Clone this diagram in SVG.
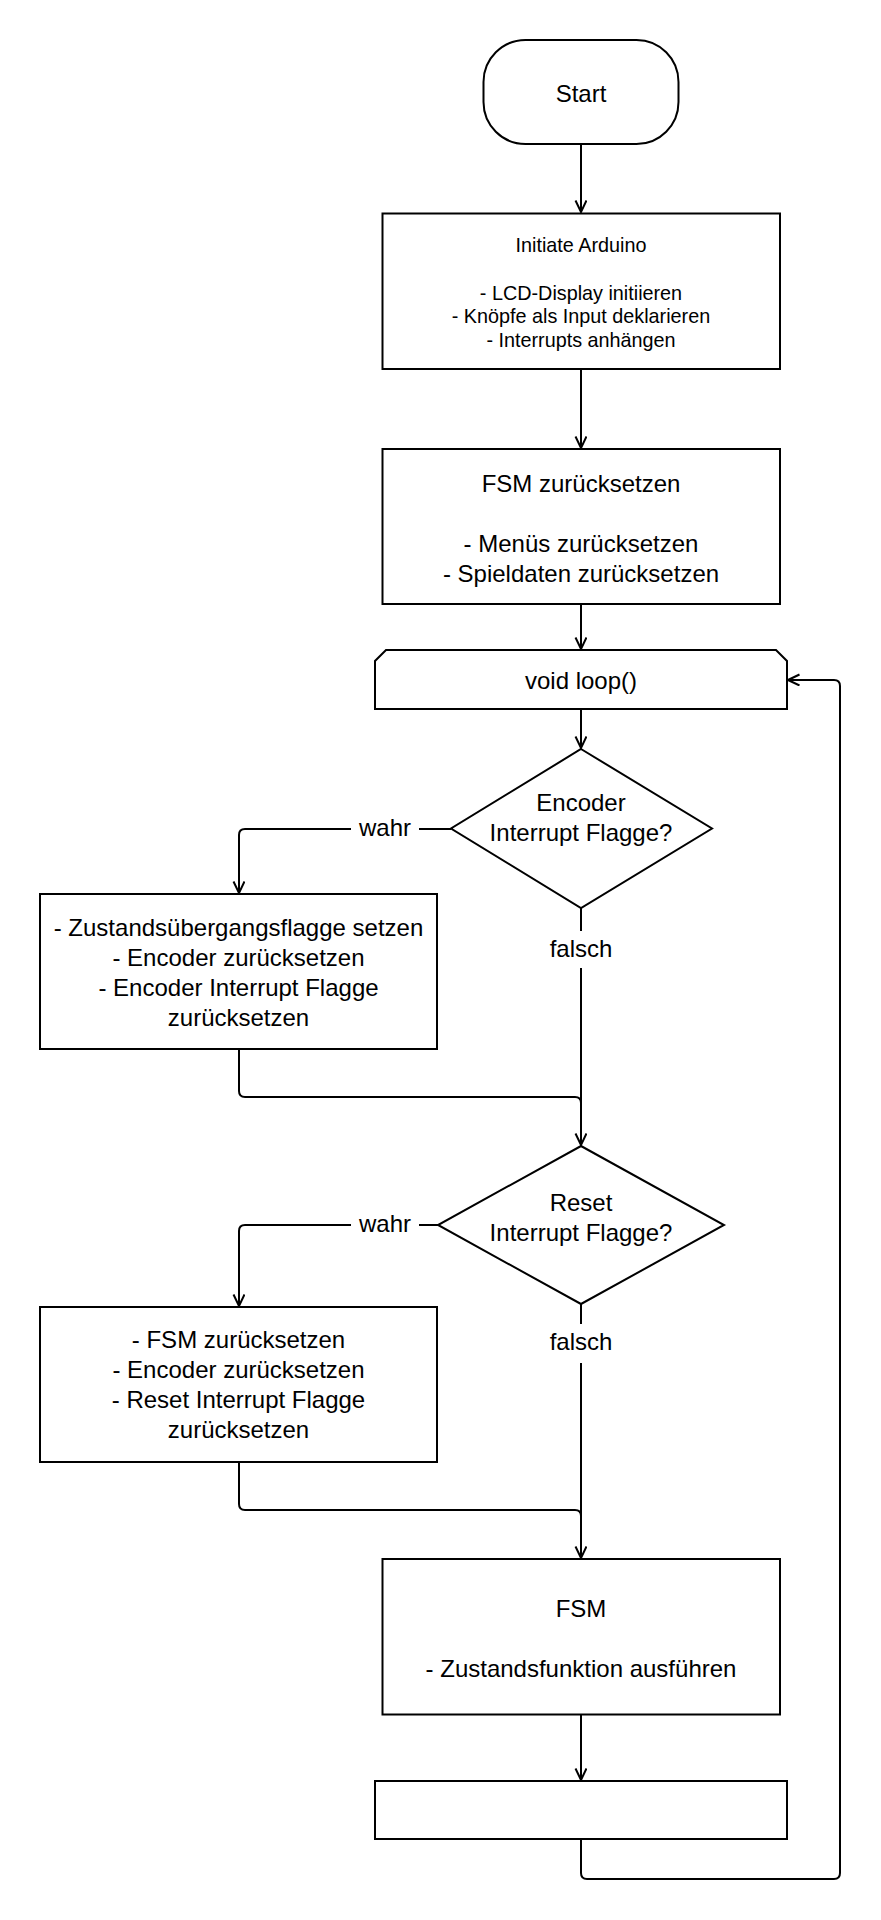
<svg xmlns="http://www.w3.org/2000/svg" width="881" height="1920" viewBox="0 0 881 1920">
<defs>
<style>
.s{fill:#fff;stroke:#000;stroke-width:2}
.t{font-family:"Liberation Sans",Arial,sans-serif;font-size:24px;fill:#000;text-anchor:middle}
.ts{font-family:"Liberation Sans",Arial,sans-serif;font-size:19.8px;fill:#000;text-anchor:middle}
.c{fill:none;stroke:#000;stroke-width:2}
.bg{fill:#fff;stroke:none}
</style>
<marker id="a" markerUnits="userSpaceOnUse" markerWidth="14" markerHeight="14" refX="12" refY="6" orient="auto" viewBox="0 0 14 14">
<path d="M0.5,0.5 L12,6 L0.5,11.5" fill="none" stroke="#000" stroke-width="2"/>
</marker>
</defs>
<rect width="881" height="1920" fill="#fff"/>
<g id="connectors">
<path class="c" d="M581,144 V212" marker-end="url(#a)"/>
<path class="c" d="M581,369 V448" marker-end="url(#a)"/>
<path class="c" d="M581,604 V649" marker-end="url(#a)"/>
<path class="c" d="M581,709 V748" marker-end="url(#a)"/>
<path class="c" d="M451,829 H245 Q239,829 239,835 V893" marker-end="url(#a)"/>
<path class="c" d="M581,908 V1145" marker-end="url(#a)"/>
<path class="c" d="M239,1049 V1091 Q239,1097 245,1097 H575 Q581,1097 581,1103"/>
<path class="c" d="M438,1225 H245 Q239,1225 239,1231 V1306" marker-end="url(#a)"/>
<path class="c" d="M581,1304 V1558" marker-end="url(#a)"/>
<path class="c" d="M239,1462 V1504 Q239,1510 245,1510 H575 Q581,1510 581,1516"/>
<path class="c" d="M581,1715 V1780" marker-end="url(#a)"/>
<path class="c" d="M581,1839 V1873 Q581,1879 587,1879 H834 Q840,1879 840,1873 V686 Q840,680 834,680 H788" marker-end="url(#a)"/>
<rect class="bg" x="351" y="815" width="68" height="28"/>
<text class="t" x="385" y="836">wahr</text>
<rect class="bg" x="545" y="931" width="72" height="37"/>
<text class="t" x="581" y="957">falsch</text>
<rect class="bg" x="351" y="1211" width="68" height="28"/>
<text class="t" x="385" y="1232">wahr</text>
<rect class="bg" x="545" y="1324" width="72" height="39"/>
<text class="t" x="581" y="1350">falsch</text>
</g>
<g id="start">
<rect class="s" x="483.5" y="40" width="195" height="104" rx="42" ry="42"/>
<text class="t" x="581" y="102">Start</text>
</g>
<g id="initiate">
<rect class="s" x="382.5" y="213.5" width="397.5" height="155.5"/>
<text class="ts" x="581" y="252">Initiate Arduino</text>
<text class="ts" x="581" y="299.5">- LCD-Display initiieren</text>
<text class="ts" x="581" y="323.3">- Knöpfe als Input deklarieren</text>
<text class="ts" x="581" y="347">- Interrupts anhängen</text>
</g>
<g id="fsmreset">
<rect class="s" x="382.5" y="449" width="397.5" height="155"/>
<text class="t" x="581" y="492">FSM zurücksetzen</text>
<text class="t" x="581" y="552">- Menüs zurücksetzen</text>
<text class="t" x="581" y="582">- Spieldaten zurücksetzen</text>
</g>
<g id="loop">
<path class="s" d="M386,650 H776 L787,661 V709 H375 V661 Z"/>
<text class="t" x="581" y="689">void loop()</text>
</g>
<g id="enc">
<path class="s" d="M581,749 L712,828.5 L581,908 L451,828.5 Z"/>
<text class="t" x="581" y="811">Encoder</text>
<text class="t" x="581" y="841">Interrupt Flagge?</text>
</g>
<g id="encbox">
<rect class="s" x="40" y="894" width="397" height="155"/>
<text class="t" x="238.5" y="935.5">- Zustandsübergangsflagge setzen</text>
<text class="t" x="238.5" y="965.5">- Encoder zurücksetzen</text>
<text class="t" x="238.5" y="995.5">- Encoder Interrupt Flagge</text>
<text class="t" x="238.5" y="1025.5">zurücksetzen</text>
</g>
<g id="reset">
<path class="s" d="M581,1146 L724,1225 L581,1304 L438,1225 Z"/>
<text class="t" x="581" y="1211">Reset</text>
<text class="t" x="581" y="1241">Interrupt Flagge?</text>
</g>
<g id="resetbox">
<rect class="s" x="40" y="1307" width="397" height="155"/>
<text class="t" x="238.5" y="1348">- FSM zurücksetzen</text>
<text class="t" x="238.5" y="1378">- Encoder zurücksetzen</text>
<text class="t" x="238.5" y="1408">- Reset Interrupt Flagge</text>
<text class="t" x="238.5" y="1438">zurücksetzen</text>
</g>
<g id="fsm">
<rect class="s" x="382.5" y="1559" width="397.5" height="155.5"/>
<text class="t" x="581" y="1617">FSM</text>
<text class="t" x="581" y="1677">- Zustandsfunktion ausführen</text>
</g>
<g id="end">
<rect class="s" x="375" y="1781" width="412" height="58"/>
</g>
</svg>
